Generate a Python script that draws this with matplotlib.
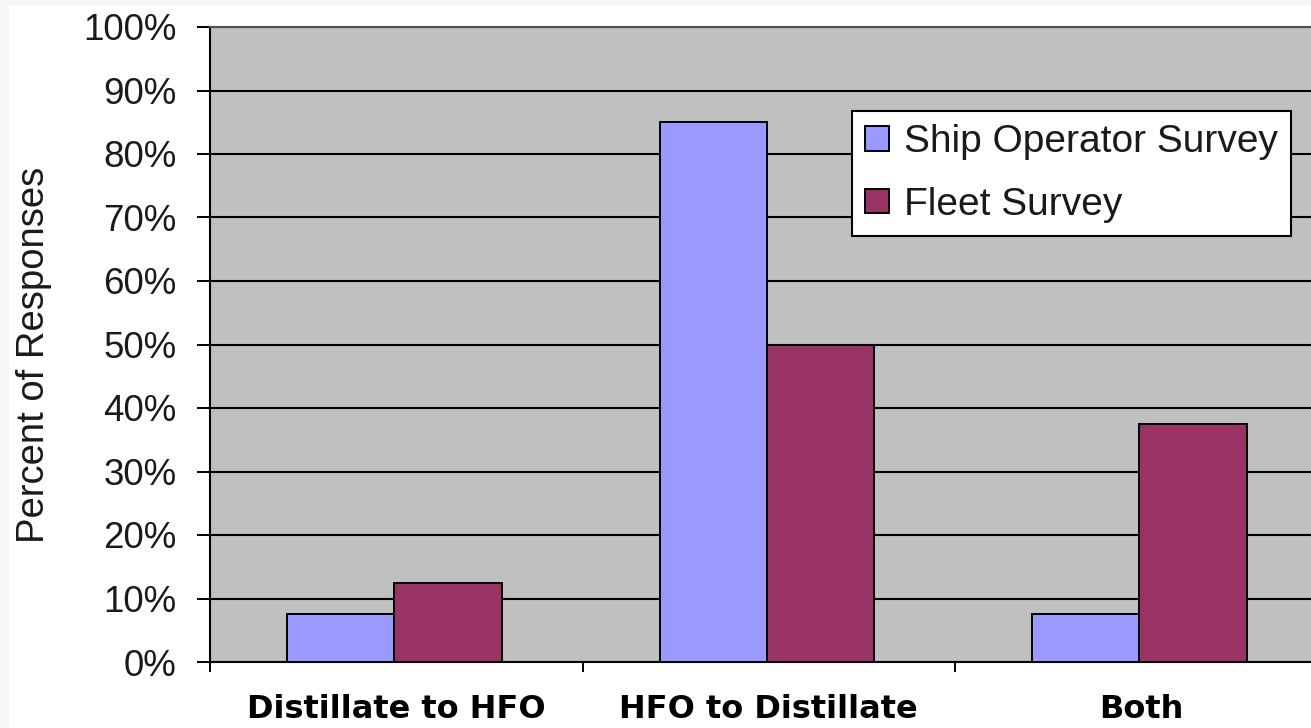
import matplotlib
matplotlib.use("Agg")
import matplotlib.pyplot as plt
from matplotlib.patches import Rectangle
from matplotlib.ticker import FuncFormatter, FixedLocator
import numpy as np

# Survey data: share of responses by type of fuel switch
categories = ["Distillate to HFO", "HFO to Distillate", "Both"]
series_names = ["Ship Operator Survey", "Fleet Survey"]
ship_operator = [7.5, 85.0, 7.5]
fleet = [12.5, 50.0, 37.5]
y_ticks = [0, 10, 20, 30, 40, 50, 60, 70, 80, 90, 100]

W, H = 1311, 728
fig = plt.figure(figsize=(W / 100, H / 100), dpi=100)
fig.patch.set_facecolor("white")

# thin light frame along the left and top edges
fig.patches.append(Rectangle((0, 0), 9 / W, 1, transform=fig.transFigure,
                             facecolor="#f6f6f6", edgecolor="none", zorder=0))
fig.patches.append(Rectangle((0, 1 - 5 / H), 1, 5 / H, transform=fig.transFigure,
                             facecolor="#f6f6f6", edgecolor="none", zorder=0))

# plot area (extends slightly beyond the right edge of the canvas)
left_px, right_px, top_px, bottom_px = 210, 1327.5, 27, 662
ax = fig.add_axes([left_px / W, 1 - bottom_px / H,
                   (right_px - left_px) / W, (bottom_px - top_px) / H])
ax.set_facecolor("#c0c0c0")

x = np.arange(len(categories))
w = 0.288
ax.bar(x - w / 2 - 0.005, ship_operator, width=w, color="#9999ff", edgecolor="black",
       linewidth=1.4, label=series_names[0], zorder=3)
ax.bar(x + w / 2 - 0.005, fleet, width=w, color="#993366", edgecolor="black",
       linewidth=1.4, label=series_names[1], zorder=3)

ax.set_xlim(-0.5, len(categories) - 0.5)
ax.set_ylim(0, 100)

# y axis
ax.set_yticks(y_ticks)
ax.yaxis.set_major_formatter(FuncFormatter(lambda v, p: f"{v:.0f}%"))
ax.tick_params(axis="y", which="major", direction="out", length=9.4, width=1.4,
               pad=14.5, labelsize=26.5, colors="black")
for lab in ax.get_yticklabels():
    lab.set_fontfamily("Liberation Sans")
    lab.set_color("#1a1a1a")
ax.yaxis.grid(True, color="black", linewidth=1.5, zorder=1)
ax.set_axisbelow(True)

# x axis: labels at category centres, tick marks at category boundaries
ax.set_xticks(x)
ax.set_xticklabels(categories, fontfamily="DejaVu Sans", fontweight="bold",
                   fontsize=23)
ax.xaxis.set_minor_locator(FixedLocator(np.arange(len(categories) + 1) - 0.5))
ax.tick_params(axis="x", which="major", length=0, pad=23)
ax.tick_params(axis="x", which="minor", direction="out", length=7.5, width=1.4)

for side in ["left", "bottom", "top"]:
    ax.spines[side].set_color("black")
    ax.spines[side].set_linewidth(1.5)
ax.spines["top"].set_color("#505050")
ax.spines["right"].set_visible(False)

fig.text(34 / W, 1 - 355 / H, "Percent of Responses", rotation=90,
         ha="center", va="center", fontsize=27.5, fontfamily="Liberation Sans",
         color="#1a1a1a")

leg = ax.legend(loc="upper left", bbox_to_anchor=(852 / W, 1 - 111 / H),
                bbox_transform=fig.transFigure, borderaxespad=0,
                prop={"family": "Liberation Sans", "size": 28},
                fancybox=False, shadow=False, frameon=True,
                handlelength=0.6, handleheight=0.6, handletextpad=0.4,
                borderpad=0.34, labelspacing=0.68)
leg.get_frame().set_edgecolor("black")
leg.get_frame().set_linewidth(1.5)
leg.get_frame().set_facecolor("white")
leg.get_frame().set_alpha(1)
for t in leg.get_texts():
    t.set_color("#1a1a1a")

fig.savefig("out.png", dpi=100)
